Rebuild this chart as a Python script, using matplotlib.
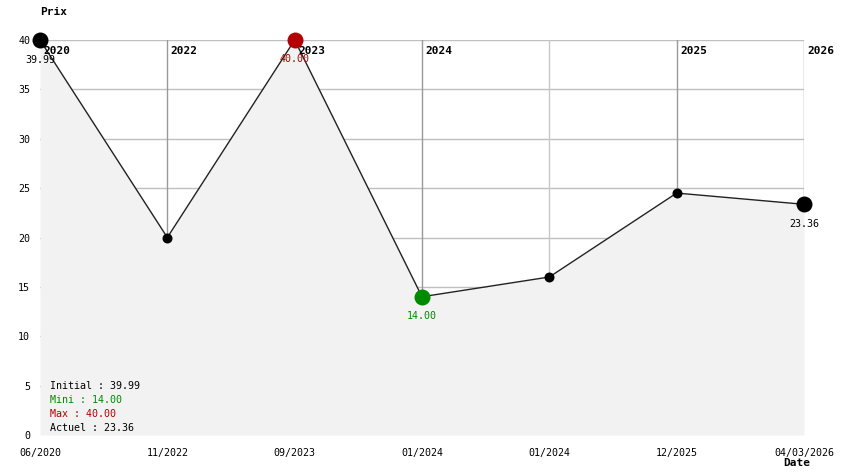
import matplotlib
matplotlib.use("Agg")
import matplotlib.pyplot as plt

dates = ["06/2020", "11/2022", "09/2023", "01/2024", "01/2024", "12/2025", "04/03/2026"]
prices = [39.99, 20.00, 40.00, 14.00, 16.00, 24.50, 23.36]
year_labels = ["2020", "2022", "2023", "2024", "", "2025", "2026"]
yticks = [0, 5, 10, 15, 20, 25, 30, 35, 40]

initial = prices[0]
mini = min(prices)
maxi = max(prices)
actuel = prices[-1]

RED = "#b30000"
GREEN = "#008a00"
FONT = "DejaVu Sans Mono"
FS = 7.2

W, H = 844, 474
fig = plt.figure(figsize=(W / 100, H / 100), dpi=100)
ax = fig.add_axes([40 / W, (H - 435) / H, (804 - 40) / W, (435 - 40) / H])
ax.set_xlim(0, len(prices) - 1)
ax.set_ylim(0, 40)
for s in ax.spines.values():
    s.set_visible(False)

x = list(range(len(prices)))

# grid
for yv in yticks[1:]:
    ax.axhline(yv, color="#c0c0c0", lw=1, zorder=0.5)
for i, lab in enumerate(year_labels):
    if i == 0:
        continue
    ax.axvline(i, color="#999999" if lab else "#c8c8c8", lw=1, zorder=0.5)

fill = ax.fill_between(x, prices, 0, color="#f2f2f2", lw=0)
fill.set_zorder(2.5)
ax.plot(x, prices, color="#222222", lw=1, zorder=3)

imin = prices.index(mini)
imax = prices.index(maxi)
for i, p in enumerate(prices):
    if i == imax:
        c, ms = RED, 11.5
    elif i == imin:
        c, ms = GREEN, 11.5
    elif i == 0 or i == len(prices) - 1:
        c, ms = "black", 11.5
    else:
        c, ms = "black", 7.2
    ax.plot([i], [p], "o", color=c, ms=ms, mec="none", zorder=4, clip_on=False)

# value labels
for idx, val, col in [(0, initial, "black"), (imax, maxi, RED), (imin, mini, GREEN),
                      (len(prices) - 1, actuel, "black")]:
    ax.annotate(f"{val:.2f}", (idx, val), xytext=(0, -14), textcoords="offset points",
                ha="center", va="center", fontsize=FS, family=FONT, color=col, zorder=5)

# year labels at top
for i, lab in enumerate(year_labels):
    if lab:
        ax.annotate(lab, (i, 40), xytext=(2.5, -8), textcoords="offset points",
                    ha="left", va="center", fontsize=8, family=FONT, weight="bold", zorder=6,
                    annotation_clip=False)

# axes ticks
ax.set_yticks(yticks)
ax.set_yticklabels([str(v) for v in yticks], family=FONT, fontsize=FS)
ax.set_xticks(x)
ax.set_xticklabels(dates, family=FONT, fontsize=FS)
ax.tick_params(length=0)
ax.tick_params(axis="x", pad=9.5)
ax.tick_params(axis="y", pad=7)

fig.text(40 / W, 1 - 12 / H, "Prix", family=FONT, weight="bold", fontsize=8,
         ha="left", va="center")
fig.text(797 / W, 1 - 463 / H, "Date", family=FONT, weight="bold", fontsize=8,
         ha="center", va="center")

# legend block
leg = [(f"Initial : {initial:.2f}", "black"), (f"Mini : {mini:.2f}", GREEN),
       (f"Max : {maxi:.2f}", RED), (f"Actuel : {actuel:.2f}", "black")]
for k, (t, c) in enumerate(leg):
    fig.text(50 / W, 1 - (386 + 14 * k) / H, t, family=FONT, fontsize=FS, color=c,
             ha="left", va="center")

fig.savefig("out.png", dpi=100, facecolor="white")
